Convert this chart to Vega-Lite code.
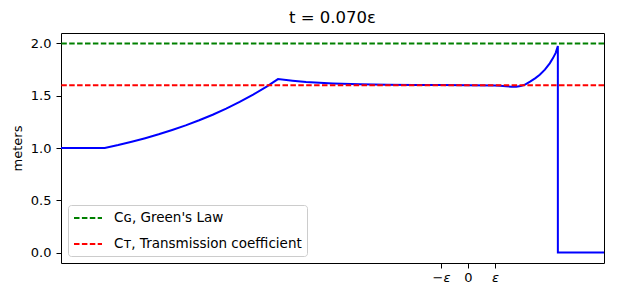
{
  "$schema": "https://vega.github.io/schema/vega-lite/v6.json",
  "width": 543,
  "height": 230,
  "autosize": {"type": "none"},
  "padding": {"left": 61, "top": 33, "right": 13, "bottom": 34},
  "background": "white",
  "config": {
    "font": "DejaVu Sans",
    "view": {"stroke": "black", "strokeWidth": 1},
    "axis": {
      "domain": false,
      "grid": false,
      "tickColor": "black",
      "tickSize": 5,
      "tickWidth": 1,
      "labelColor": "black",
      "labelFontSize": 13,
      "labelFont": "DejaVu Sans",
      "titleFont": "DejaVu Sans",
      "titleFontSize": 13,
      "titleFontWeight": "normal",
      "titleColor": "black"
    }
  },
  "title": {
    "text": "t = 0.070ε",
    "font": "DejaVu Sans",
    "fontSize": 16.5,
    "fontWeight": "normal",
    "color": "black",
    "anchor": "middle",
    "offset": 7
  },
  "datasets": {
    "wave": [
      {"x": -15.08, "h": 1.0},
      {"x": -13.46, "h": 1.0},
      {"x": -12.96, "h": 1.028},
      {"x": -12.46, "h": 1.06},
      {"x": -11.96, "h": 1.094},
      {"x": -11.46, "h": 1.131},
      {"x": -10.96, "h": 1.172},
      {"x": -10.46, "h": 1.216},
      {"x": -9.96, "h": 1.265},
      {"x": -9.46, "h": 1.318},
      {"x": -8.96, "h": 1.377},
      {"x": -8.46, "h": 1.441},
      {"x": -7.96, "h": 1.511},
      {"x": -7.46, "h": 1.587},
      {"x": -7.04, "h": 1.659},
      {"x": -6.5, "h": 1.643},
      {"x": -6.0, "h": 1.631},
      {"x": -5.5, "h": 1.623},
      {"x": -5.0, "h": 1.617},
      {"x": -4.0, "h": 1.609},
      {"x": -3.0, "h": 1.605},
      {"x": -2.0, "h": 1.603},
      {"x": -1.0, "h": 1.6015},
      {"x": 0.0, "h": 1.601},
      {"x": 1.0, "h": 1.598},
      {"x": 1.2, "h": 1.596},
      {"x": 1.4, "h": 1.591},
      {"x": 1.6, "h": 1.587},
      {"x": 1.79, "h": 1.585},
      {"x": 1.95, "h": 1.592},
      {"x": 2.1, "h": 1.605},
      {"x": 2.3, "h": 1.635},
      {"x": 2.5, "h": 1.668},
      {"x": 2.66, "h": 1.7},
      {"x": 2.85, "h": 1.75},
      {"x": 3.03, "h": 1.81},
      {"x": 3.15, "h": 1.86},
      {"x": 3.25, "h": 1.91},
      {"x": 3.33, "h": 1.975},
      {"x": 3.331, "h": 0.0},
      {"x": 5.04, "h": 0.0}
    ],
    "refs": [
      {"series": "Cɢ, Green's Law", "value": 2.0},
      {"series": "Cᴛ, Transmission coefficient", "value": 1.6}
    ]
  },
  "layer": [
    {
      "data": {"name": "wave"},
      "mark": {"type": "line", "color": "#0000ff", "strokeWidth": 2, "clip": true},
      "encoding": {
        "x": {
          "field": "x",
          "type": "quantitative",
          "scale": {"domain": [-15.08, 5.04], "nice": false, "zero": false},
          "axis": {
            "title": null,
            "values": [-1, 0, 1],
            "labelExpr": "datum.value == -1 ? '−ε' : (datum.value == 0 ? '0' : 'ε')",
            "labelPadding": 3,
            "labelFontStyle": {"condition": {"test": "datum.value == 0", "value": "normal"}, "value": "italic"}
          }
        },
        "y": {
          "field": "h",
          "type": "quantitative",
          "scale": {"domain": [-0.1, 2.1], "nice": false, "zero": false},
          "axis": {
            "title": "meters",
            "values": [0, 0.5, 1, 1.5, 2],
            "format": ".1f",
            "labelPadding": 5,
            "titlePadding": 6
          }
        }
      }
    },
    {
      "data": {"name": "refs"},
      "mark": {"type": "rule", "strokeDash": [5.5, 2.4], "strokeWidth": 2},
      "encoding": {
        "y": {"field": "value", "type": "quantitative"},
        "color": {
          "field": "series",
          "type": "nominal",
          "sort": null,
          "scale": {
            "domain": ["Cɢ, Green's Law", "Cᴛ, Transmission coefficient"],
            "range": ["#008000", "#ff0000"]
          },
          "legend": {
            "title": null,
            "orient": "bottom-left",
            "offset": 7,
            "symbolType": "M-1,0H3",
            "symbolSize": 196,
            "symbolStrokeWidth": 2,
            "symbolDash": [5.5, 2.4],
            "symbolFillColor": "transparent",
            "labelFontSize": 13.5,
            "labelFont": "DejaVu Sans",
            "labelColor": "black",
            "labelOffset": 25,
            "labelLimit": 400,
            "padding": 5,
            "rowPadding": 11,
            "strokeColor": "#cccccc",
            "fillColor": "rgba(255,255,255,0.8)",
            "cornerRadius": 3
          }
        }
      }
    }
  ]
}
